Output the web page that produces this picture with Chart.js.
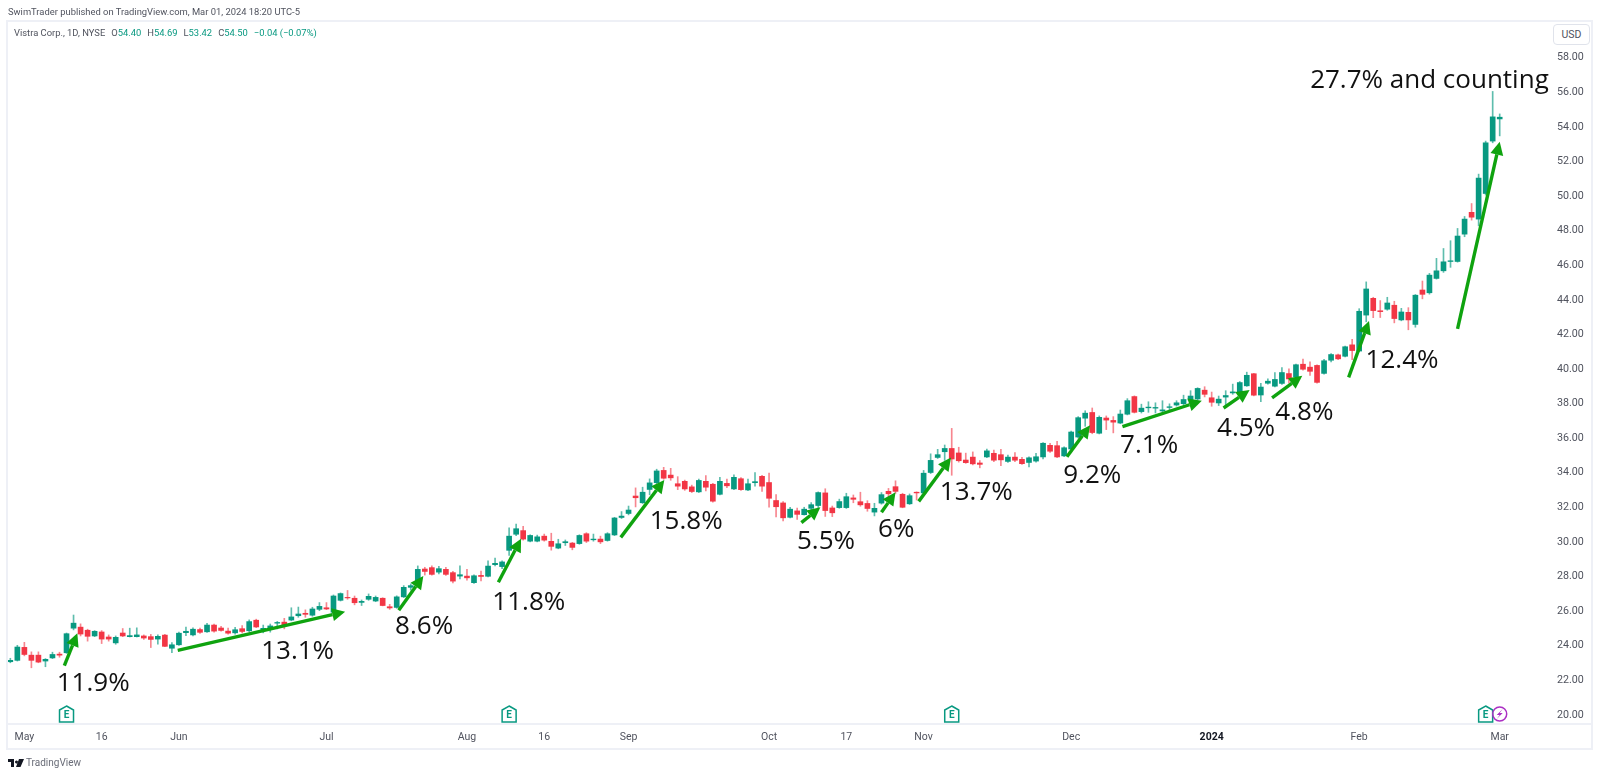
<!DOCTYPE html>
<html>
<head>
<meta charset="utf-8">
<title>Vistra Corp. 1D</title>
<script src="https://cdn.jsdelivr.net/npm/chart.js@4/dist/chart.umd.min.js"></script>
<style>
    html, body { margin: 0; padding: 0; background: #fff; width: 1600px; height: 777px; overflow: hidden; }
    canvas { position: absolute; left: 0; top: 0; }
    .txt { position: absolute; white-space: nowrap; font-family: Roboto, sans-serif; color: #50535e; }
    #published { left: 8px; top: 6px; font-size: 9.4px; }
    #legend { left: 14px; top: 27px; font-size: 9.4px; }
    #legend b { font-weight: normal; color: #089981; }
    #legend span { margin-left: 6px; }
    #usd { left: 1553px; top: 24px; width: 35px; height: 19px; line-height: 19px; text-align: center; font-size: 10.5px;
           border: 1px solid #e0e3eb; border-radius: 4px; background: #fff; }
    #brand { left: 26px; top: 757px; font-size: 10px; color: #6a6d78; }
    #logo { position: absolute; left: 8px; top: 759px; }
</style>
</head>
<body>
<canvas id="chart" width="1600" height="777"></canvas>
<div class="txt" id="published">SwimTrader published on TradingView.com, Mar 01, 2024 18:20 UTC-5</div>
<div class="txt" id="legend">Vistra Corp., 1D, NYSE<span>O<b>54.40</b></span><span>H<b>54.69</b></span><span>L<b>53.42</b></span><span>C<b>54.50</b></span><span><b>−0.04 (−0.07%)</b></span></div>
<div class="txt" id="usd">USD</div>
<svg id="logo" width="16" height="9" viewBox="0 0 16 9"><path fill="#131722" d="M0 0h6v8H3V3H0zM7 3a1.5 1.5 0 1 0 0-.01zM11 0h5l-3.500 8H8z"/></svg>
<div class="txt" id="brand">TradingView</div>
<script>
// candles, Apr 27 2023 -> Mar 01 2024
const opens = [
    23.02,23.10,23.85,23.40,23.40,23.06,23.24,23.46,23.54,24.96,
    25.02,24.84,24.51,24.74,24.45,24.11,24.68,24.47,24.47,24.51,
    24.47,24.33,24.56,23.80,24.00,24.70,24.57,24.88,24.75,25.14,
    24.97,24.79,24.69,24.93,24.81,25.42,24.85,24.91,25.25,25.31,
    25.43,25.68,25.82,25.71,26.05,26.14,25.88,26.57,26.74,26.69,
    26.45,26.63,26.53,26.69,26.20,26.16,26.77,27.32,27.69,28.38,
    28.46,28.20,28.36,28.17,27.97,27.97,27.59,28.01,27.96,28.63,
    28.52,29.46,30.39,30.60,29.99,29.99,30.28,29.98,29.59,29.90,
    29.88,29.85,30.42,30.07,30.11,30.03,30.35,31.36,31.59,32.60,
    32.21,32.98,33.37,34.08,33.81,33.31,33.45,33.13,32.84,33.45,
    33.28,32.70,33.33,33.01,33.60,32.95,33.37,33.74,33.38,32.34,
    32.20,31.37,31.74,31.52,31.89,32.05,32.78,31.91,31.93,31.93,
    32.49,32.27,32.17,31.67,32.19,32.87,33.14,32.70,32.15,32.82,
    32.78,33.96,34.83,35.16,35.35,35.09,34.68,34.85,34.51,34.86,
    35.07,34.99,34.60,34.85,34.72,34.54,34.62,34.86,35.53,35.51,
    34.92,35.32,36.01,37.10,37.43,36.23,37.11,36.97,36.82,37.33,
    38.35,37.48,37.70,37.68,37.52,37.72,37.86,37.94,38.14,38.21,
    38.72,38.28,37.98,38.32,38.56,38.59,38.97,39.67,38.44,39.12,
    38.95,39.11,39.68,39.49,40.22,40.05,40.15,39.69,40.45,40.76,
    40.68,41.34,40.98,43.06,44.03,43.31,43.40,43.63,42.78,43.22,
    42.52,44.51,44.35,45.18,45.62,46.16,46.16,47.74,49.00,48.61,50.09,53.12,54.40
];
const closes = [
    23.10,23.87,23.44,23.10,23.00,23.16,23.44,23.40,24.64,25.25,
    24.62,24.49,24.78,24.33,24.33,24.43,24.51,24.53,24.57,24.39,
    24.31,24.49,23.91,24.00,24.67,24.78,24.90,24.72,25.14,24.79,
    24.83,24.67,24.87,24.77,25.34,25.03,24.95,25.09,25.29,25.11,
    25.61,25.78,25.76,26.07,26.22,26.07,26.82,26.96,26.71,26.43,
    26.51,26.80,26.74,26.27,26.13,26.77,27.32,27.42,28.36,28.24,
    28.07,28.40,28.07,27.68,28.05,27.87,27.99,27.95,28.55,28.71,
    28.79,30.28,30.71,30.11,30.32,30.24,30.05,29.69,29.84,29.96,
    29.63,30.32,29.99,30.11,29.95,30.42,31.33,31.44,31.79,32.50,
    32.82,33.36,34.05,33.63,33.65,33.17,33.01,32.86,33.50,33.11,
    32.30,33.45,33.19,33.68,32.97,33.31,33.43,33.17,32.47,31.98,
    31.34,31.84,31.54,31.84,32.10,32.80,31.76,31.63,32.28,32.56,
    32.41,32.09,31.88,31.89,32.68,32.73,32.87,31.95,32.62,32.78,
    33.92,34.66,34.99,35.35,34.74,34.64,34.53,34.46,34.43,35.21,
    34.67,34.69,34.85,34.67,34.47,34.81,34.87,35.65,35.19,34.86,
    35.39,36.30,37.13,37.39,36.27,37.15,36.99,36.87,37.34,38.11,
    37.44,37.68,37.74,37.72,37.58,37.76,37.99,38.18,38.38,38.82,
    38.48,38.02,38.20,38.41,38.62,39.16,39.58,38.43,38.90,39.24,
    39.34,39.74,39.37,40.19,39.93,39.81,39.17,40.42,40.78,40.53,
    41.23,41.01,43.28,44.57,43.32,43.26,43.76,42.86,43.24,42.78,
    44.21,44.26,45.37,45.62,46.14,46.20,47.63,48.61,48.72,50.98,53.02,54.52,54.50
];
const highs = [
    23.22,23.97,24.14,23.59,23.59,23.20,23.57,23.57,24.68,25.72,
    25.21,24.90,24.82,24.82,24.57,24.51,24.94,24.96,24.98,24.57,
    24.60,24.57,24.60,24.13,24.73,25.02,24.98,24.96,25.24,25.20,
    25.07,24.97,25.01,25.11,25.44,25.48,25.14,25.20,25.35,25.53,
    26.14,26.18,26.02,26.17,26.44,26.44,26.88,27.00,27.14,26.82,
    26.59,26.94,26.82,26.72,26.34,26.83,27.42,27.52,28.56,28.48,
    28.56,28.54,28.48,28.25,28.56,28.36,28.05,28.26,28.86,29.01,
    28.85,30.76,30.98,30.85,30.36,30.34,30.40,30.45,30.10,30.06,
    29.92,30.36,30.48,30.40,30.28,30.48,31.37,31.70,32.02,33.07,
    33.11,33.59,34.15,34.26,34.20,33.72,33.52,33.23,33.58,33.78,
    33.34,33.68,33.58,33.82,33.66,33.58,33.96,33.80,33.93,32.69,
    32.28,31.95,31.90,31.95,32.22,32.84,33.02,32.02,32.42,32.76,
    32.66,32.82,32.33,32.18,32.80,33.04,33.48,32.76,32.72,32.84,
    34.08,35.04,35.30,35.55,36.51,35.42,35.08,35.15,34.65,35.31,
    35.26,35.30,34.97,35.11,34.84,34.87,35.07,35.69,35.65,35.76,
    35.45,36.36,37.19,37.53,37.69,37.23,37.23,37.19,37.57,38.23,
    38.39,37.91,38.05,37.99,38.11,37.93,38.11,38.43,38.69,38.86,
    38.92,38.61,38.38,38.69,39.07,39.22,39.76,39.69,39.11,39.38,
    39.73,40.03,39.96,40.23,40.52,40.36,40.19,40.50,40.84,40.80,
    41.27,41.66,43.43,44.98,44.09,43.90,44.09,43.86,43.45,43.49,
    44.25,45.03,45.47,46.34,46.91,47.36,48.07,48.76,49.51,51.21,53.12,55.99,54.69
];
const lows = [
    22.96,23.06,23.36,22.67,22.96,22.73,23.20,23.28,23.50,24.86,
    24.51,24.21,24.47,24.07,24.21,24.03,24.47,24.45,24.45,24.31,
    23.84,24.03,23.89,23.54,23.97,24.53,24.51,24.66,24.71,24.73,
    24.79,24.61,24.61,24.69,24.75,24.99,24.69,24.73,24.92,24.92,
    25.39,25.59,25.59,25.65,25.97,26.03,25.84,26.53,26.63,26.31,
    26.27,26.57,26.49,26.25,26.05,26.11,26.73,27.16,27.63,28.03,
    28.03,28.10,28.01,27.58,27.81,27.73,27.55,27.69,27.92,28.56,
    28.40,29.16,30.31,30.05,29.95,29.95,29.99,29.47,29.55,29.74,
    29.49,29.81,29.91,29.99,29.85,29.99,30.31,31.30,31.51,31.97,
    32.17,32.67,33.29,33.57,33.51,32.97,32.93,32.80,32.80,32.89,
    32.24,32.66,33.09,32.97,32.93,32.91,33.17,32.86,31.96,31.39,
    31.16,31.33,31.25,31.50,31.79,31.93,31.42,31.41,31.89,31.88,
    32.21,32.01,31.72,31.45,32.13,32.36,32.75,31.92,32.11,32.37,
    32.74,33.90,34.77,34.66,33.80,34.56,34.49,34.40,34.23,34.82,
    34.58,34.36,34.54,34.59,34.43,34.28,34.56,34.74,35.12,34.82,
    34.88,35.28,35.95,36.63,36.20,36.19,36.44,36.25,36.78,37.29,
    37.40,37.40,37.44,37.40,37.44,37.52,37.80,37.86,38.06,38.17,
    38.33,37.79,37.83,37.75,38.48,38.51,38.94,38.39,38.05,39.06,
    38.91,39.05,39.13,39.45,39.87,39.57,39.13,39.65,40.35,40.49,
    40.64,40.48,40.94,42.67,42.91,42.92,43.34,42.61,42.73,42.21,
    42.36,44.00,44.27,45.14,45.53,45.82,46.12,47.59,48.55,48.22,50.00,53.02,53.42
];

const priceTicks = [20,22,24,26,28,30,32,34,36,38,40,42,44,46,48,50,52,54,56,58];
const timeTickIdx = [2,13,24,45,65,76,88,108,119,130,151,171,192,212];
const timeTickLabels = ['May','16','Jun','Jul','Aug','16','Sep','Oct','17','Nov','Dec','2024','Feb','Mar'];

// hand drawn arrows, tail and tip in candle index / price
const arrowFromIdx = [7.69,23.83,55.29,69.47,86.89,112.6,124.0,129.3,150.4,158.3,172.7,179.6,190.5,206.0];
const arrowFromPrice = [22.79,23.68,25.99,27.61,30.21,31.06,31.66,32.29,34.87,36.61,37.69,38.28,39.46,42.27];
const arrowToIdx = [9.54,47.66,58.79,72.70,93.09,115.3,126.0,133.9,153.7,169.6,176.4,183.9,193.4,212.0];
const arrowToPrice = [24.66,25.91,27.98,30.13,33.53,31.95,32.82,34.82,36.69,38.11,38.73,39.55,42.72,53.08];

const noteTexts = ['11.9%','13.1%','8.6%','11.8%','15.8%','5.5%','6%','13.7%','9.2%','7.1%','4.5%','4.8%','12.4%','27.7% and counting'];
const noteIdx = [11.8,40.9,58.9,73.8,96.2,116.1,126.1,137.5,154.0,162.1,175.9,184.2,198.1,202.0];
const notePrice = [21.87,23.74,25.14,26.55,31.21,30.06,30.79,32.91,33.87,35.61,36.61,37.53,40.56,56.71];

const earningsIdx = [8,71,134,210];
const dividendIdx = [212];

const UP = '#089981', DOWN = '#f23645';
const UP_WICK = 'rgba(8,153,129,0.65)', DOWN_WICK = 'rgba(242,54,69,0.6)';
const ARROW = '#0fa30f';

const isUp = i => closes[i] >= opens[i];
const timeLabel = v => timeTickLabels[timeTickIdx.indexOf(v)];

function drawArrow(ctx, x0, y0, x1, y1) {
    const a = Math.atan2(y1 - y0, x1 - x0);
    const len = 13, half = 6.5;
    const bx = x1 - Math.cos(a) * len, by = y1 - Math.sin(a) * len;
    ctx.strokeStyle = ARROW;
    ctx.fillStyle = ARROW;
    ctx.lineWidth = 3.4;
    ctx.beginPath();
    ctx.moveTo(x0, y0);
    ctx.lineTo(bx, by);
    ctx.stroke();
    ctx.beginPath();
    ctx.moveTo(x1, y1);
    ctx.lineTo(bx - Math.sin(a) * half, by + Math.cos(a) * half);
    ctx.lineTo(bx + Math.sin(a) * half, by - Math.cos(a) * half);
    ctx.closePath();
    ctx.fill();
}

function drawEarnings(ctx, x, y) {
    ctx.strokeStyle = UP;
    ctx.lineWidth = 1.5;
    ctx.beginPath();
    ctx.moveTo(x, y - 8);
    ctx.lineTo(x + 7, y - 4);
    ctx.lineTo(x + 7, y + 8);
    ctx.lineTo(x - 7, y + 8);
    ctx.lineTo(x - 7, y - 4);
    ctx.closePath();
    ctx.stroke();
    ctx.fillStyle = UP;
    ctx.font = 'bold 10px Roboto';
    ctx.textAlign = 'center';
    ctx.textBaseline = 'middle';
    ctx.fillText('E', x, y + 1);
}

function drawDividend(ctx, x, y) {
    ctx.strokeStyle = '#ab2fc4';
    ctx.fillStyle = '#ab2fc4';
    ctx.lineWidth = 1.5;
    ctx.beginPath();
    ctx.arc(x, y, 7, 0, Math.PI * 2);
    ctx.stroke();
    ctx.beginPath();
    ctx.moveTo(x + 3, y - 5);
    ctx.lineTo(x - 3, y + 1);
    ctx.lineTo(x, y + 1);
    ctx.lineTo(x - 3, y + 5);
    ctx.lineTo(x + 3, y - 1);
    ctx.lineTo(x, y - 1);
    ctx.closePath();
    ctx.fill();
}

const framePlugin = {
    id: 'frame',
    beforeDraw(chart) {
        const ctx = chart.ctx, area = chart.chartArea;
        ctx.save();
        ctx.strokeStyle = '#eef0f6';
        ctx.lineWidth = 2;
        ctx.strokeRect(7, 21, 1585, 728);
        ctx.beginPath();
        ctx.moveTo(7, area.bottom);
        ctx.lineTo(1592, area.bottom);
        ctx.stroke();
        ctx.restore();
    }
};

const notesPlugin = {
    id: 'notes',
    afterDatasetsDraw(chart) {
        const ctx = chart.ctx, xs = chart.scales.x, ys = chart.scales.y, area = chart.chartArea;
        ctx.save();
        arrowFromIdx.forEach((v, i) => {
            drawArrow(ctx, xs.getPixelForValue(v), ys.getPixelForValue(arrowFromPrice[i]),
                xs.getPixelForValue(arrowToIdx[i]), ys.getPixelForValue(arrowToPrice[i]));
        });
        ctx.fillStyle = '#111';
        ctx.font = '26px "Open Sans"';
        ctx.textAlign = 'center';
        ctx.textBaseline = 'middle';
        noteTexts.forEach((t, i) => {
            // +2: Open Sans sits a little high on the middle baseline
            ctx.fillText(t, xs.getPixelForValue(noteIdx[i]), ys.getPixelForValue(notePrice[i]) + 2);
        });
        earningsIdx.forEach(v => drawEarnings(ctx, xs.getPixelForValue(v), area.bottom - 10));
        dividendIdx.forEach(v => drawDividend(ctx, xs.getPixelForValue(v), area.bottom - 10));
        ctx.restore();
    }
};

const wicks = opens.map((o, i) => ({x: i, y: [lows[i], highs[i]]}));
const bodies = opens.map((o, i) => ({x: i, y: [o, closes[i]]}));

new Chart(document.getElementById('chart').getContext('2d'), {
    type: 'bar',
    data: {
        datasets: [
            {
                label: 'body',
                data: bodies,
                order: 1,
                grouped: false,
                barThickness: 5,
                borderWidth: 0,
                backgroundColor: bodies.map((b, i) => isUp(i) ? UP : DOWN)
            },
            {
                label: 'wick',
                data: wicks,
                order: 2,
                grouped: false,
                barThickness: 1,
                borderWidth: 0,
                backgroundColor: wicks.map((w, i) => isUp(i) ? UP_WICK : DOWN_WICK)
            }
        ]
    },
    options: {
        responsive: false,
        animation: false,
        layout: {padding: {left: 8, right: 8, top: 20, bottom: 28}},
        plugins: {legend: {display: false}, tooltip: {enabled: false}},
        scales: {
            x: {
                type: 'linear',
                min: -0.33,
                max: 219.16,
                offset: false,
                grid: {display: false, drawTicks: false},
                border: {display: false},
                afterFit(axis) { axis.height = 25; },
                afterBuildTicks(axis) { axis.ticks = timeTickIdx.map(v => ({value: v})); },
                ticks: {
                    autoSkip: false,
                    maxRotation: 0,
                    padding: 7,
                    color: ctx => ctx.tick && timeLabel(ctx.tick.value) === '2024' ? '#131722' : '#50535e',
                    font: ctx => ({
                        family: 'Roboto',
                        size: 10.5,
                        weight: ctx.tick && timeLabel(ctx.tick.value) === '2024' ? 'bold' : 'normal'
                    }),
                    callback: v => timeLabel(v)
                }
            },
            y: {
                position: 'right',
                min: 19.42,
                max: 60.12,
                grid: {display: false, drawTicks: false},
                border: {display: false},
                afterFit(axis) { axis.width = 42; },
                afterBuildTicks(axis) { axis.ticks = priceTicks.map(v => ({value: v})); },
                ticks: {
                    autoSkip: false,
                    padding: 7,
                    labelOffset: 1,
                    color: '#50535e',
                    font: {family: 'Roboto', size: 10.7},
                    callback: v => v.toFixed(2)
                }
            }
        }
    },
    plugins: [framePlugin, notesPlugin]
});
</script>
</body>
</html>
